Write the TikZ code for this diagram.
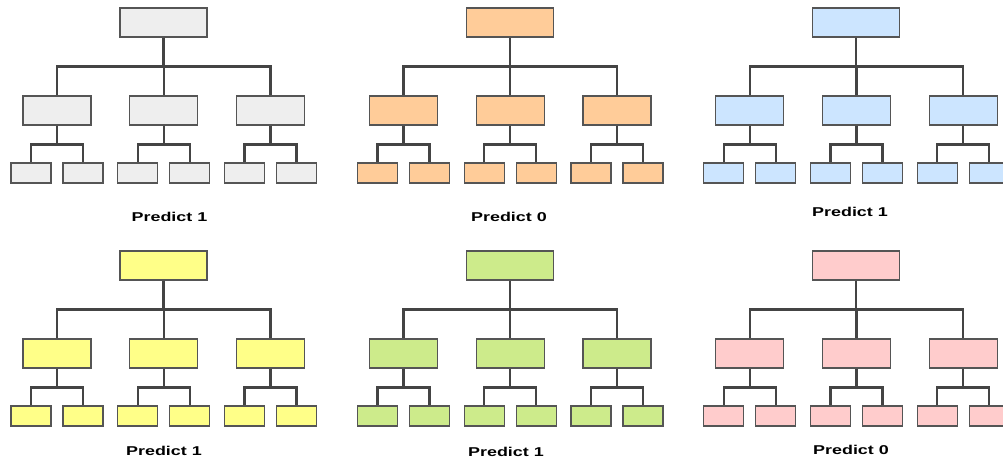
\documentclass[tikz,border=0pt]{standalone}
\usepackage{fontspec}
\setmainfont{Liberation Sans}
\definecolor{linec}{HTML}{444444}
\definecolor{boxline}{HTML}{555555}
\definecolor{cgray}{HTML}{EEEEEE}
\definecolor{corange}{HTML}{FFCC99}
\definecolor{cblue}{HTML}{CCE5FF}
\definecolor{cyellow}{HTML}{FFFF88}
\definecolor{cgreen}{HTML}{CDEB8B}
\definecolor{cpink}{HTML}{FFCCCC}
\tikzset{
  conn/.style={draw=linec, line width=2.4pt},
  box/.style={draw=boxline, line width=1.1pt, inner sep=0pt, rectangle},
  rootbox/.style={box, minimum width=87pt, minimum height=29pt},
  midbox/.style={box, minimum width=68pt, minimum height=29pt},
  leafbox/.style={box, minimum width=40pt, minimum height=20pt},
  lab/.style={anchor=base, inner sep=0pt, font=\bfseries\fontsize{12.8}{14}\selectfont}
}
\newcommand{\mytree}[4]{%
  \begin{scope}[shift={(#2,#3)}]
    \node[rootbox, fill=#4] (#1r) at (163.5,22.5) {};
    \foreach \i/\mx in {1/57,2/163.75,3/270.5} {
      \node[midbox, fill=#4] (#1m\i) at (\mx,110.5) {};
      \node[leafbox, fill=#4] (#1l\i a) at (\mx-26,173) {};
      \node[leafbox, fill=#4] (#1l\i b) at (\mx+26,173) {};
      \draw[conn] (#1r.south) -- ++(0,29) -| (#1m\i.north);
      \draw[conn] (#1m\i.south) -- ++(0,19) -| (#1l\i a.north);
      \draw[conn] (#1m\i.south) -- ++(0,19) -| (#1l\i b.north);
    }
  \end{scope}}
\begin{document}
\begin{tikzpicture}[x=1pt, y=-1pt]
  \useasboundingbox (0,0) rectangle (1003,460);
  \begin{scope}
    \clip (0,0) rectangle (1003,460);
    \mytree{a}{0}{0}{cgray}
    \mytree{b}{346.5}{0}{corange}
    \mytree{c}{692.7}{0}{cblue}
    \mytree{d}{0}{243}{cyellow}
    \mytree{e}{346.5}{243}{cgreen}
    \mytree{f}{692.7}{243}{cpink}
  \end{scope}
  \node[lab] (la) at (169.5,221.7) {\scalebox{1.4}[1]{Predict 1}};
  \node[lab] (lb) at (509,221.7) {\scalebox{1.4}[1]{Predict 0}};
  \node[lab] (lc) at (850,216.3) {\scalebox{1.4}[1]{Predict 1}};
  \node[lab] (ld) at (164,455.7) {\scalebox{1.4}[1]{Predict 1}};
  \node[lab] (le) at (506,456) {\scalebox{1.4}[1]{Predict 1}};
  \node[lab] (lf) at (851,454.5) {\scalebox{1.4}[1]{Predict 0}};
\end{tikzpicture}
\end{document}
